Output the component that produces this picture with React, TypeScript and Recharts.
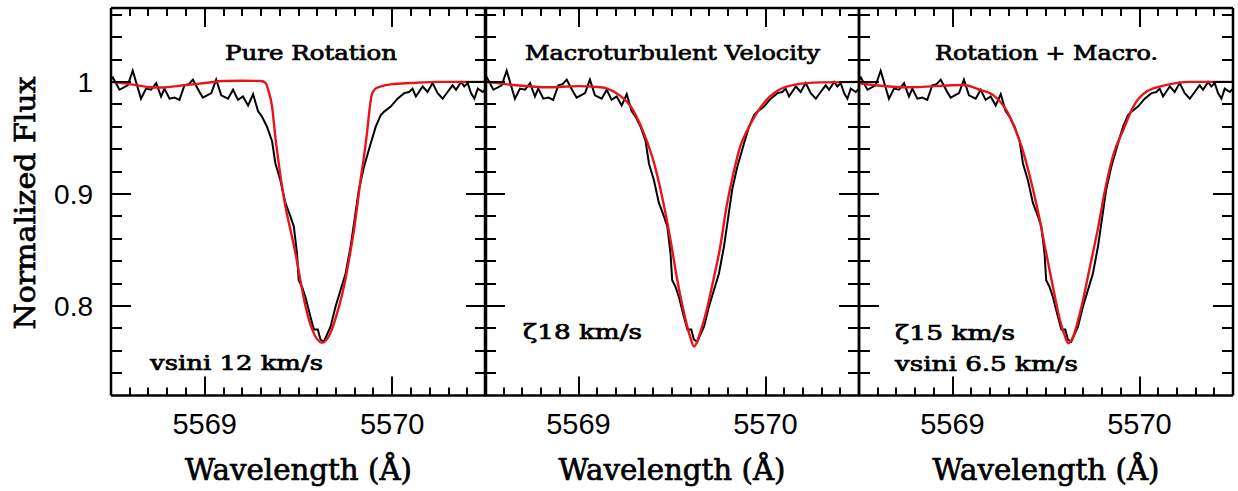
import React from 'react'
import { LineChart, Line, XAxis, YAxis } from 'recharts'

// observed spectrum (same in every panel): [wavelength Å, normalized flux]
const observed: [number, number][] = [
	[5568.5, 1.002], [5568.51, 1.004], [5568.545, 0.993], [5568.589, 0.997], [5568.616, 1.01],
	[5568.66, 0.985], [5568.687, 0.994], [5568.714, 0.993], [5568.741, 0.999], [5568.767, 0.987],
	[5568.785, 0.994], [5568.812, 0.985], [5568.839, 0.986], [5568.865, 0.984], [5568.892, 0.997],
	[5568.915, 0.998], [5568.937, 1.002], [5568.972, 0.991], [5568.99, 0.986], [5569.035, 0.99],
	[5569.061, 1.002], [5569.088, 0.988], [5569.124, 0.985], [5569.151, 0.993], [5569.177, 0.984],
	[5569.204, 0.987], [5569.231, 0.979], [5569.258, 0.989], [5569.284, 0.974], [5569.305, 0.969],
	[5569.332, 0.96], [5569.359, 0.947], [5569.377, 0.927], [5569.403, 0.9125], [5569.43, 0.892],
	[5569.457, 0.88], [5569.475, 0.871], [5569.492, 0.847], [5569.501, 0.823], [5569.519, 0.817],
	[5569.537, 0.808], [5569.564, 0.79], [5569.582, 0.779], [5569.603, 0.779], [5569.617, 0.77],
	[5569.635, 0.768], [5569.671, 0.7815], [5569.697, 0.799], [5569.724, 0.814], [5569.751, 0.829],
	[5569.778, 0.853], [5569.804, 0.883], [5569.822, 0.904], [5569.849, 0.924], [5569.885, 0.945],
	[5569.912, 0.96], [5569.939, 0.9705], [5569.957, 0.9735], [5569.992, 0.978], [5570.028, 0.985],
	[5570.064, 0.99], [5570.09, 0.991], [5570.108, 0.994], [5570.126, 0.987], [5570.162, 0.996],
	[5570.188, 0.991], [5570.215, 0.999], [5570.242, 0.99], [5570.269, 0.985], [5570.295, 0.991],
	[5570.322, 0.997], [5570.34, 0.993], [5570.367, 1.0], [5570.384, 0.996], [5570.402, 0.999],
	[5570.42, 0.99], [5570.438, 0.985], [5570.456, 0.994], [5570.483, 0.991], [5570.5, 0.994],
]

// model: pure rotation, vsini 12 km/s
const rotationModel: [number, number][] = [
	[5568.5, 1.0], [5568.6, 0.998], [5568.7, 0.9955], [5568.77, 0.995], [5568.89, 0.997],
	[5569.0, 0.999], [5569.1, 1.0008], [5569.2, 1.001], [5569.3, 1.0008], [5569.325, 0.999],
	[5569.34, 0.992], [5569.359, 0.978], [5569.377, 0.95], [5569.394, 0.928], [5569.412, 0.907],
	[5569.43, 0.889], [5569.457, 0.868], [5569.484, 0.847], [5569.51, 0.823], [5569.537, 0.8],
	[5569.573, 0.779], [5569.626, 0.767], [5569.671, 0.776], [5569.706, 0.7935], [5569.742, 0.817],
	[5569.769, 0.841], [5569.796, 0.868], [5569.813, 0.889], [5569.831, 0.9125], [5569.849, 0.933],
	[5569.867, 0.957], [5569.88, 0.977], [5569.89, 0.988], [5569.91, 0.994], [5569.94, 0.996],
	[5570.0, 0.998], [5570.1, 0.999], [5570.25, 1.0], [5570.5, 1.0],
]

// model: macroturbulence only, zeta 18 km/s
const macroModel: [number, number][] = [
	[5568.5, 1.0], [5568.65, 0.9973], [5568.83, 0.9952], [5569.0, 0.9962], [5569.1, 0.9955],
	[5569.15, 0.9943], [5569.22, 0.988], [5569.28, 0.978], [5569.33, 0.962], [5569.37, 0.945],
	[5569.4, 0.93], [5569.436, 0.906], [5569.472, 0.877], [5569.498, 0.853], [5569.525, 0.826],
	[5569.561, 0.796], [5569.596, 0.773], [5569.618, 0.7637], [5569.65, 0.7756], [5569.685, 0.796],
	[5569.721, 0.823], [5569.757, 0.852], [5569.792, 0.889], [5569.828, 0.918], [5569.864, 0.942],
	[5569.9, 0.956], [5569.952, 0.972], [5570.024, 0.987], [5570.113, 0.9958], [5570.256, 0.9994],
	[5570.5, 1.0],
]

// model: rotation + macroturbulence, zeta 15, vsini 6.5 km/s
const comboModel: [number, number][] = [
	[5568.5, 0.9988], [5568.755, 0.9952], [5569.058, 0.9973], [5569.147, 0.993], [5569.22, 0.988],
	[5569.28, 0.977], [5569.33, 0.96], [5569.37, 0.942], [5569.41, 0.918], [5569.459, 0.883],
	[5569.494, 0.853], [5569.53, 0.823], [5569.566, 0.7935], [5569.601, 0.773], [5569.619, 0.7667],
	[5569.646, 0.773], [5569.69, 0.7994], [5569.735, 0.835], [5569.78, 0.871], [5569.815, 0.903],
	[5569.86, 0.935], [5569.913, 0.957], [5569.967, 0.978], [5570.038, 0.9914], [5570.145, 0.9973],
	[5570.27, 1.0], [5570.5, 1.0],
]

const xTicks = [
	5568.6, 5568.7, 5568.8, 5568.9, 5569, 5569.1, 5569.2, 5569.3, 5569.4, 5569.5,
	5569.6, 5569.7, 5569.8, 5569.9, 5570, 5570.1, 5570.2, 5570.3, 5570.4,
]
const xMajor = [5569, 5570]
const yTicks = [
	0.74, 0.76, 0.78, 0.8, 0.82, 0.84, 0.86, 0.88, 0.9, 0.92, 0.94, 0.96, 0.98, 1, 1.02, 1.04, 1.06,
]
const yMajor = [0.8, 0.9, 1]

const X_DOMAIN: [number, number] = [5568.5, 5570.5]
const Y_DOMAIN: [number, number] = [0.72, 1.066]

const W = 1238
const H = 491
const TOP = 8
const BOTTOM = 395.5
const AX = 6 // size reserved for each axis strip
const X_MINOR = 8
const X_MAJ = 19
const Y_MINOR = 11
const Y_MAJ = 20
const SERIF = '"DejaVu Serif", serif'
const SANS = '"Liberation Sans", Arial, sans-serif'

const PANELS = [
	{ left: 111, right: 486 },
	{ left: 485, right: 859 },
	{ left: 859, right: 1233 },
]

const toRows = (pts: [number, number][]) => pts.map(([w, f]) => ({ w, f }))
const isMajorX = (v: number) => xMajor.some((m) => Math.abs(m - v) < 1e-6)
const isMajorY = (v: number) => yMajor.some((m) => Math.abs(m - v) < 1e-6)

const BottomLabel = (p: any) => {
	const v = p.payload.value
	if (!isMajorX(v)) return <g />
	return (
		<text x={p.x} y={p.y + 38} textAnchor="middle" fontFamily={SANS} fontSize={29} fill="#000">
			{Math.round(v)}
		</text>
	)
}
const makeLeftLabel = (show: boolean) => (p: any) => {
	const v = p.payload.value
	if (!show || !isMajorY(v)) return <g />
	return (
		<text x={p.x - 18} y={p.y + 10} textAnchor="end" fontFamily={SANS} fontSize={28} fill="#000">
			{v === 1 ? '1' : v.toFixed(1)}
		</text>
	)
}

// inward tick marks on the frame as small filled bars
const FrameTicks = ({ left, right }: { left: number; right: number }) => {
	const px = (v: number) => left + ((v - X_DOMAIN[0]) / (X_DOMAIN[1] - X_DOMAIN[0])) * (right - left)
	const py = (v: number) => TOP + ((Y_DOMAIN[1] - v) / (Y_DOMAIN[1] - Y_DOMAIN[0])) * (BOTTOM - TOP)
	return (
		<g>
			{xTicks.map((t) => {
				const len = isMajorX(t) ? X_MAJ : X_MINOR
				const x = Math.round(px(t)) - 1
				return (
					<g key={`x${t}`}>
						<rect x={x} y={BOTTOM - len} width={2} height={len} fill="#000" />
						<rect x={x} y={TOP} width={2} height={len} fill="#000" />
					</g>
				)
			})}
			{yTicks.map((t) => {
				const len = isMajorY(t) ? Y_MAJ : Y_MINOR
				const y = Math.round(py(t)) - 1
				return (
					<g key={`y${t}`}>
						<rect x={left} y={y} width={len} height={2} fill="#000" />
						<rect x={right - len} y={y} width={len} height={2} fill="#000" />
					</g>
				)
			})}
		</g>
	)
}

type Note = { text: string; x: number; y: number; len: number }

const textStyle = {
	fontFamily: SERIF,
	fill: '#000',
	stroke: '#000',
	strokeWidth: 0.7,
}

const Panel = ({
	left,
	right,
	model,
	title,
	notes,
	yLabels,
}: {
	left: number
	right: number
	model: [number, number][]
	title: Note
	notes: Note[]
	yLabels: boolean
}) => {
	const axisLine = { stroke: '#000', strokeWidth: 2.5 }
	const cx = (left + right) / 2
	const common = {
		interval: 0 as const,
		allowDataOverflow: true,
		tickLine: false,
		axisLine,
	}
	return (
		<div style={{ position: 'absolute', left: 0, top: 0 }}>
			<LineChart
				width={W}
				height={H}
				margin={{
					top: TOP - AX,
					bottom: H - BOTTOM - AX,
					left: left - AX,
					right: W - right - AX,
				}}>
				<XAxis
					{...common}
					dataKey="w"
					type="number"
					domain={X_DOMAIN}
					ticks={xTicks}
					height={AX}
					tickSize={0}
					tickMargin={0}
					tick={<BottomLabel />}
				/>
				<XAxis
					{...common}
					xAxisId="top"
					orientation="top"
					dataKey="w"
					type="number"
					domain={X_DOMAIN}
					ticks={xTicks}
					height={AX}
					tick={false}
				/>
				<YAxis
					{...common}
					type="number"
					domain={Y_DOMAIN}
					ticks={yTicks}
					width={AX}
					tickSize={0}
					tickMargin={0}
					tick={makeLeftLabel(yLabels)}
				/>
				<YAxis
					{...common}
					yAxisId="right"
					orientation="right"
					type="number"
					domain={Y_DOMAIN}
					ticks={yTicks}
					width={AX}
					tick={false}
				/>
				<Line
					data={toRows(observed)}
					dataKey="f"
					type="linear"
					stroke="#000"
					strokeWidth={2}
					dot={false}
					isAnimationActive={false}
				/>
				<Line
					data={toRows(model)}
					dataKey="f"
					type="monotone"
					stroke="#e8141a"
					strokeWidth={2.4}
					dot={false}
					isAnimationActive={false}
				/>
				<text
					{...textStyle}
					x={title.x}
					y={title.y}
					textLength={title.len}
					lengthAdjust="spacingAndGlyphs"
					fontSize={20}>
					{title.text}
				</text>
				{notes.map((n) => (
					<text
						{...textStyle}
						key={n.text}
						x={n.x}
						y={n.y}
						textLength={n.len}
						lengthAdjust="spacingAndGlyphs"
						fontSize={20}>
						{n.text}
					</text>
				))}
				<text
					{...textStyle}
					x={cx}
					y={480}
					textAnchor="middle"
					textLength={227}
					lengthAdjust="spacingAndGlyphs"
					fontSize={29}>
					Wavelength (Å)
				</text>
				{yLabels && (
					<text
						{...textStyle}
						x={35}
						y={203}
						transform="rotate(-90 35 203)"
						textAnchor="middle"
						textLength={253}
						lengthAdjust="spacingAndGlyphs"
						fontSize={28}>
						Normalized Flux
					</text>
				)}
			</LineChart>
		</div>
	)
}

export default function App() {
	return (
		<div style={{ position: 'absolute', left: 0, top: 0, width: W, height: H, background: '#fff' }}>
			<Panel
				{...PANELS[0]}
				model={rotationModel}
				yLabels
				title={{ text: 'Pure Rotation', x: 225, y: 60, len: 172 }}
				notes={[{ text: 'vsini 12 km/s', x: 150, y: 370, len: 173 }]}
			/>
			<Panel
				{...PANELS[1]}
				model={macroModel}
				yLabels={false}
				title={{ text: 'Macroturbulent Velocity', x: 525, y: 60, len: 295 }}
				notes={[{ text: 'ζ18 km/s', x: 523, y: 339, len: 119 }]}
			/>
			<Panel
				{...PANELS[2]}
				model={comboModel}
				yLabels={false}
				title={{ text: 'Rotation + Macro.', x: 935, y: 60, len: 223 }}
				notes={[
					{ text: 'ζ15 km/s', x: 895, y: 340, len: 120 },
					{ text: 'vsini 6.5 km/s', x: 895, y: 371, len: 183 },
				]}
			/>
			<svg
				width={W}
				height={H}
				style={{ position: 'absolute', left: 0, top: 0, pointerEvents: 'none' }}>
				{PANELS.map((p) => (
					<FrameTicks key={p.left} left={p.left} right={p.right} />
				))}
			</svg>
		</div>
	)
}
